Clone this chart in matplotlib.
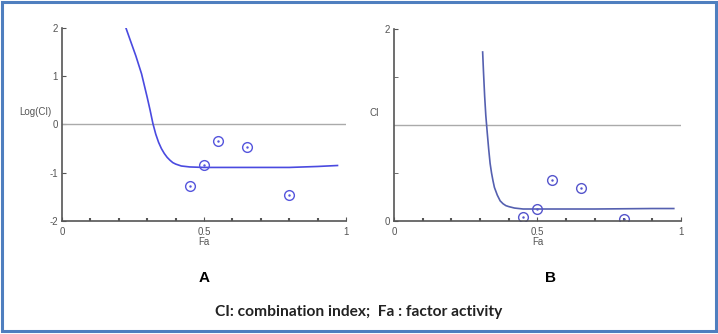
import matplotlib
matplotlib.use("Agg")
import matplotlib.pyplot as plt
from matplotlib.patches import Rectangle
import numpy as np

# ---- data ----
fa_points = [0.45, 0.50, 0.55, 0.65, 0.80]
logci_points = [-1.28, -0.83, -0.35, -0.46, -1.47]
ci_points = [0.04, 0.13, 0.43, 0.34, 0.02]

fa_curve_a = [0.225, 0.24, 0.26, 0.28, 0.30, 0.31, 0.32, 0.33, 0.34, 0.35, 0.36,
              0.37, 0.38, 0.39, 0.40, 0.42, 0.45, 0.50, 0.60, 0.70, 0.80, 0.90, 0.97]
logci_curve = [2.0, 1.75, 1.42, 1.05, 0.56, 0.30, 0.02, -0.20, -0.37, -0.50, -0.60,
               -0.68, -0.74, -0.79, -0.82, -0.86, -0.88, -0.89, -0.89, -0.89, -0.89, -0.87, -0.85]

fa_curve_b = [0.309, 0.312, 0.316, 0.32, 0.325, 0.33, 0.335, 0.34, 0.345, 0.35, 0.36,
              0.37, 0.38, 0.39, 0.40, 0.42, 0.45, 0.50, 0.70, 0.90, 0.975]
ci_curve = [1.76, 1.55, 1.30, 1.10, 0.92, 0.75, 0.60, 0.50, 0.42, 0.35, 0.27,
            0.21, 0.18, 0.16, 0.15, 0.135, 0.125, 0.125, 0.125, 0.13, 0.13]

xticks = [0, 0.5, 1]
xtick_labels = ["0", "0.5", "1"]

plt.rcParams['font.family'] = ['Liberation Sans', 'DejaVu Sans']
plt.rcParams['axes.unicode_minus'] = False

fig = plt.figure(figsize=(7.18, 3.34), dpi=100)
fig.patch.set_facecolor('white')
fig.patches.append(Rectangle((0.003, 0.008), 0.994, 0.986, transform=fig.transFigure,
                             fill=False, edgecolor='#4f7fbf', linewidth=2.2))

axA = fig.add_axes([0.0864, 0.3383, 0.3955, 0.578])
axB = fig.add_axes([0.5487, 0.3383, 0.3997, 0.575])

axis_col = '#555555'
lbl_col = '#555555'

def style(ax):
    for s in ['top', 'right']:
        ax.spines[s].set_visible(False)
    for s in ['left', 'bottom']:
        ax.spines[s].set_color(axis_col)
        ax.spines[s].set_linewidth(1.2)
    ax.set_xlim(0, 1)
    ax.set_xticks(xticks)
    ax.set_xticklabels(xtick_labels)
    ax.set_xticks(np.arange(0.1, 1.0, 0.1), minor=True)
    ax.tick_params(axis='x', which='major', direction='in', length=3, color=axis_col,
                   labelsize=7, labelcolor=lbl_col, pad=4)
    ax.tick_params(axis='x', which='minor', direction='in', length=2, width=1.5, color=axis_col)
    ax.tick_params(axis='y', which='both', direction='in', length=3, color=axis_col,
                   labelsize=7, labelcolor=lbl_col, pad=3)
    ax.set_xlabel("Fa", fontsize=7, color=lbl_col, labelpad=0)

style(axA)
axA.set_ylim(-2, 2)
axA.set_yticks([-2, -1, 0, 1, 2])
axA.axhline(0, color='#aaaaaa', lw=1.0, xmin=0, xmax=1)
axA.plot(fa_curve_a, logci_curve, color='#4a4ae0', lw=1.2)
axA.plot(fa_points, logci_points, 'o', ms=7, mfc='none', mec='#5555dd', mew=1.0)
axA.plot(fa_points, logci_points, '.', ms=1.5, color='#5555dd')
axA.text(-0.095, 0.25, "Log(CI)", fontsize=7, color=lbl_col, ha='center', va='center',
         transform=axA.transData)

style(axB)
axB.set_ylim(0, 2)
axB.set_yticks([0, 2])
axB.set_yticks([0.5, 1.0, 1.5], minor=True)
axB.axhline(1, color='#aaaaaa', lw=1.0)
axB.plot(fa_curve_b, ci_curve, color='#5560b0', lw=1.2)
axB.plot(fa_points, ci_points, 'o', ms=7, mfc='none', mec='#5555cc', mew=1.0)
axB.plot(fa_points, ci_points, '.', ms=1.5, color='#5555cc')
axB.text(-0.07, 1.12, "CI", fontsize=7, color=lbl_col, ha='center', va='center',
         transform=axB.transData)

fig.text(204 / 718, 1 - 278 / 334, "A", fontsize=11, fontweight='bold', ha='center', va='center',
         family=['Liberation Sans'])
fig.text(551 / 718, 1 - 278 / 334, "B", fontsize=11, fontweight='bold', ha='center', va='center',
         family=['Liberation Sans'])
fig.text(359 / 718, 1 - 312 / 334, "CI: combination index;  Fa : factor activity", fontsize=11.2,
         fontweight='bold', ha='center', va='center', family=['Lato', 'DejaVu Sans'], color='#222222')

fig.savefig("out.png", dpi=100)
